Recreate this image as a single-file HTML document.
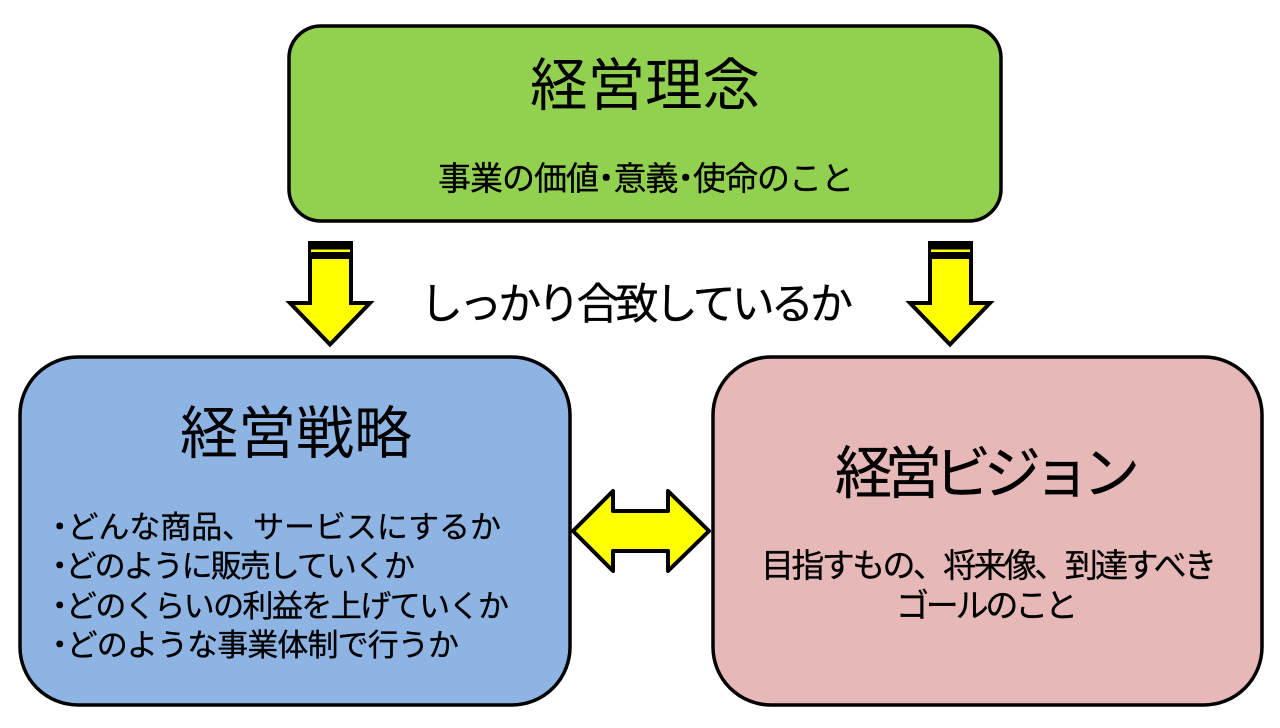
<!DOCTYPE html>
<html lang="ja"><head><meta charset="utf-8"><title>経営理念</title>
<style>html,body{margin:0;padding:0;background:#fff;width:1280px;height:728px;overflow:hidden}
svg{display:block}
text{font-family:"Liberation Sans","Noto Sans CJK JP",sans-serif;fill:#000}
.b{stroke:#000;stroke-width:.3}
.d{stroke:#000;stroke-width:1.6}
</style></head><body>
<svg width="1280" height="728" viewBox="0 0 1280 728" xmlns="http://www.w3.org/2000/svg">
<rect x="289" y="26" width="712" height="195" rx="32" fill="#92d050" stroke="#000" stroke-width="3.5"/>
<rect x="20" y="357" width="550" height="348" rx="58" fill="#8eb4e3" stroke="#000" stroke-width="3.5"/>
<rect x="713" y="357" width="549" height="348" rx="58" fill="#e6b8b7" stroke="#000" stroke-width="3.5"/>

<g fill="#ff0" stroke="#000" stroke-width="4" stroke-linejoin="miter">
<path d="M310 243H351V303H370L330 344.500L290 303H310Z"/>
<path d="M930 243H971V303H990L950 344.500L910 303H930Z"/>
<path d="M573 531L613 491V511H668V491L709 531L668 571V551H613V571Z" stroke-linejoin="round"/>
</g>
<rect x="308" y="241" width="45" height="9" fill="#000"/><rect x="308" y="252" width="45" height="7" fill="#000"/>
<rect x="928" y="241" width="45" height="9" fill="#000"/><rect x="928" y="252" width="45" height="7" fill="#000"/>
<rect x="311" y="249.500" width="39" height="2.500" fill="#ff0"/><rect x="931" y="249.500" width="39" height="2.500" fill="#ff0"/>

<text x="530" y="105" font-size="57" textLength="230" lengthAdjust="spacingAndGlyphs">経営理念</text>
<text class="b" x="438" y="190" font-size="33" textLength="416" lengthAdjust="spacing">事業の価値<tspan class="d">･</tspan>意義<tspan class="d">･</tspan>使命のこと</text>
<text class="b" x="420" y="319" font-size="43" textLength="433" lengthAdjust="spacing">しっかり合致しているか</text>
<text x="180" y="453" font-size="57" textLength="232" lengthAdjust="spacingAndGlyphs">経営戦略</text>
<text class="b" x="835" y="493" font-size="57" textLength="305" lengthAdjust="spacing">経営ビジョン</text>

<text class="b" x="52" y="538" font-size="31" textLength="449" lengthAdjust="spacing"><tspan class="d">･</tspan>どんな商品、サービスにするか</text>
<text class="b" x="52" y="577" font-size="31" textLength="363" lengthAdjust="spacing"><tspan class="d">･</tspan>どのように販売していくか</text>
<text class="b" x="52" y="617" font-size="31" textLength="457" lengthAdjust="spacing"><tspan class="d">･</tspan>どのくらいの利益を上げていくか</text>
<text class="b" x="52" y="656" font-size="31" textLength="407" lengthAdjust="spacing"><tspan class="d">･</tspan>どのような事業体制で行うか</text>

<text class="b" x="761" y="577" font-size="33" textLength="456" lengthAdjust="spacing">目指すもの、将来像、到達すべき</text>
<text class="b" x="896" y="617" font-size="33" textLength="182" lengthAdjust="spacing">ゴールのこと</text>
</svg>
</body></html>
